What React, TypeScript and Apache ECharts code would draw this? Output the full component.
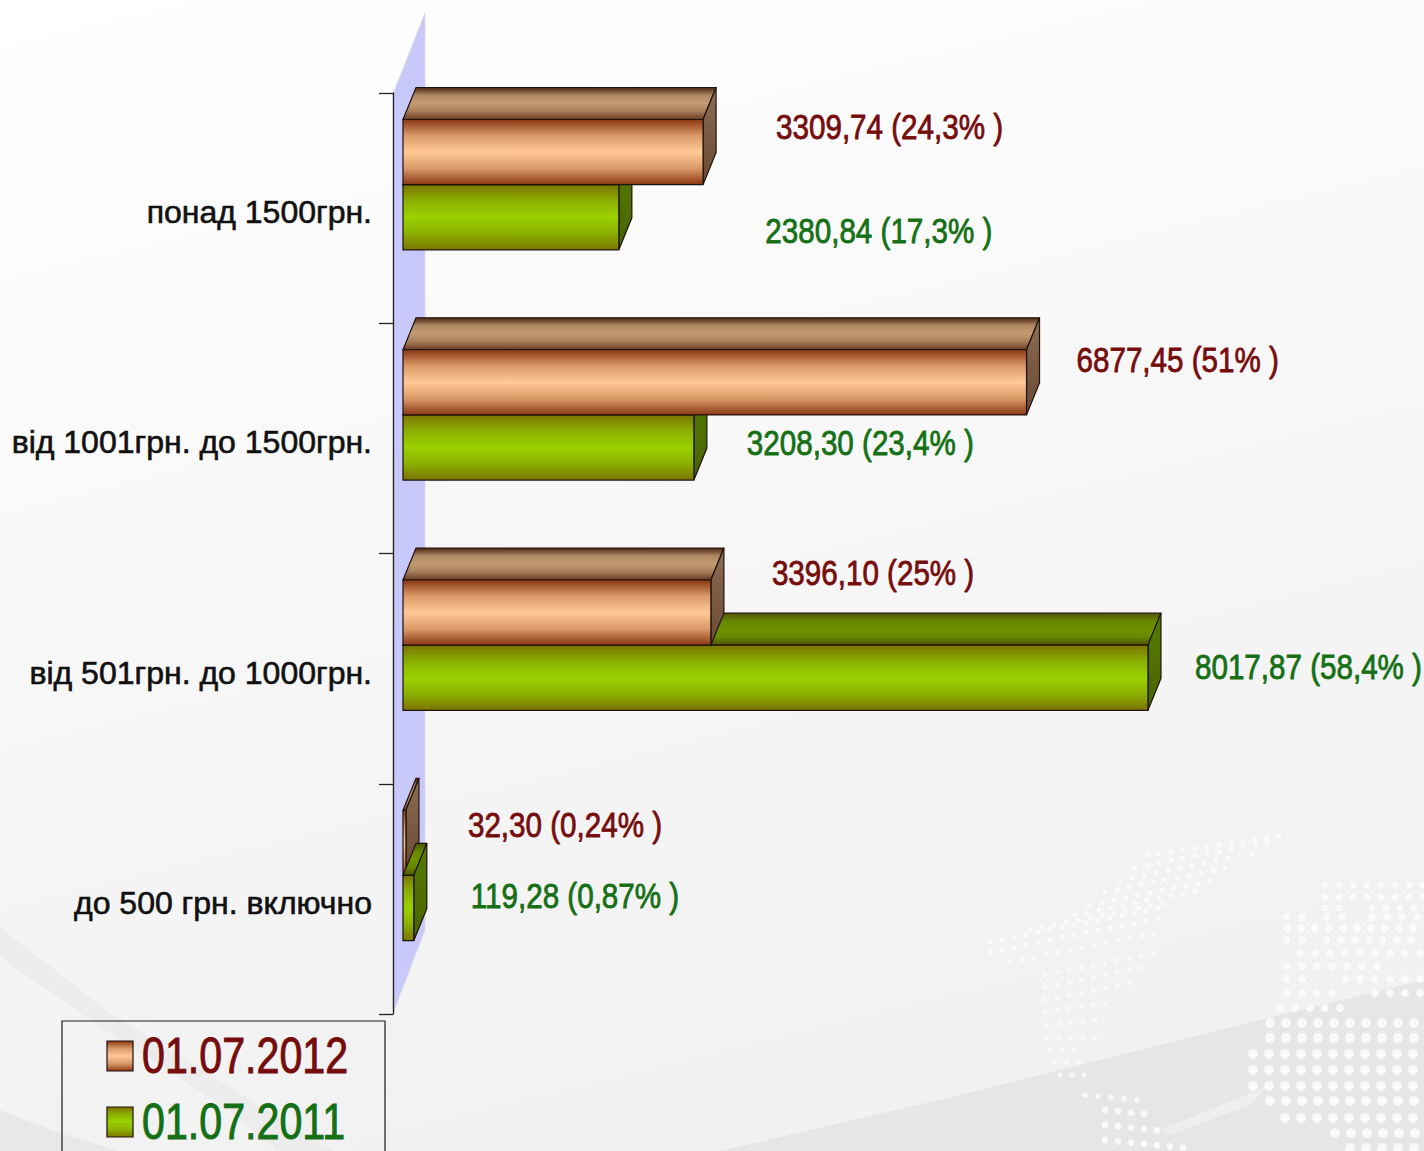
import React, { useEffect, useRef } from "react";
import * as echarts from "echarts";

// Categories bottom-to-top, as in the chart's own axis
const categories = ["до 500 грн. включно", "від 501грн. до 1000грн.", "від 1001грн. до 1500грн.", "понад 1500грн."];
const seriesNames = ["01.07.2012", "01.07.2011"];
const values2012 = [32.3, 3396.1, 6877.45, 3309.74];
// Bar lengths (the 501-1000 bar is drawn longer than its printed label)
const values2011 = [119.28, 8217, 3208.3, 2380.84];
const labels2012 = ["32,30 (0,24% )", "3396,10 (25% )", "6877,45 (51% )", "3309,74 (24,3% )"];
const labels2011 = ["119,28 (0,87% )", "8017,87 (58,4% )", "3208,30 (23,4% )", "2380,84 (17,3% )"];

// Manual placement of the data labels: offset from bar end (front face) and band centre
const offs2012: number[][] = [[62, -74], [61, -95], [50, -78], [73, -81]];
const offs2011: number[][] = [[57, -3], [47, -1], [53, 5], [146.5, 23]];

const FONT = '"Liberation Sans", Arial, sans-serif';
const COLOR_2012 = "#760d0d";
const COLOR_2011 = "#157015";
const grad = (c: string[]) =>
  new echarts.graphic.LinearGradient(
    0,
    0,
    0,
    1,
    c.map((color, i) => ({ offset: i / (c.length - 1), color })),
  );

const styles = {
  "2012": {
    front: ["#8c3714", "#d99a68", "#ffc895", "#d99a68", "#8c3714"],
    top: ["#4a2412", "#b08a64", "#c39b72", "#a57d5a", "#6d3a20"],
    side: ["#8d6e55", "#7a5a42", "#6b4a34"],
    text: COLOR_2012,
  },
  "2011": {
    front: ["#7a7400", "#8cb000", "#99d100", "#8cb000", "#7a7400"],
    top: ["#4f5500", "#668600", "#6e9200", "#668600", "#4f5500"],
    side: ["#557a00", "#4f7000", "#486300"],
    text: COLOR_2011,
  },
} as const;

const DX = 13;
const DY = -32;
const EDGE = "#1c120c";

function makeRender(kind: "2012" | "2011") {
  const st = styles[kind];
  const labels = kind === "2012" ? labels2012 : labels2011;
  const offs = kind === "2012" ? offs2012 : offs2011;
  return (_p: any, api: any) => {
    const v = api.value(0);
    const cat = api.value(1);
    const end = api.coord([v, cat]);
    const x0 = api.coord([0, cat])[0];
    const band = api.size([0, 1])[1];
    const yTop = end[1] + band * (kind === "2012" ? -0.385 : -0.102);
    const yBot = end[1] + band * (kind === "2012" ? -0.102 : 0.181);
    const x1 = end[0];
    const children: any[] = [
      {
        type: "polygon",
        shape: { points: [[x0, yTop], [x0 + DX, yTop + DY], [x1 + DX, yTop + DY], [x1, yTop]] },
        style: { fill: grad(st.top as any), stroke: EDGE, lineWidth: 1.2 },
      },
      {
        type: "polygon",
        shape: { points: [[x1, yTop], [x1 + DX, yTop + DY], [x1 + DX, yBot + DY], [x1, yBot]] },
        style: { fill: grad(st.side as any), stroke: EDGE, lineWidth: 1.2 },
      },
      {
        type: "rect",
        shape: { x: x0, y: yTop, width: x1 - x0, height: yBot - yTop },
        style: { fill: grad(st.front as any), stroke: EDGE, lineWidth: 1.2 },
      },
      {
        type: "text",
        x: x1 + offs[cat][0],
        y: end[1] + offs[cat][1],
        scaleY: 1.17,
        style: {
          text: labels[cat],
          fill: st.text,
          stroke: st.text,
          lineWidth: 0.7,
          fontFamily: FONT,
          fontSize: 29.6,
          align: "left",
          verticalAlign: "middle",
        },
      },
    ];
    return { type: "group", children };
  };
}

// Background dot rows: [y, xStart, xEnd, spacing, radius, slope]
const dotRows: number[][] = [
  [1023, 1270, 1424, 16, 5, 0], [1038, 1270, 1424, 16, 5, 0], [1054, 1253, 1424, 16, 5, 0],
  [1070, 1253, 1424, 16, 5, 0], [1086, 1253, 1424, 16, 5, 0], [1101, 1270, 1424, 16, 5, 0],
  [1118, 1285, 1424, 16, 5, 0], [1133, 1335, 1424, 16, 5, 0], [1148, 1350, 1424, 16, 5, 0],
  [885, 1325, 1424, 14, 3.5, 0], [897, 1325, 1424, 14, 3.5, 0], [908, 1325, 1345, 14, 3.5, 0],
  [908, 1372, 1424, 14, 3.5, 0], [917, 1287, 1302, 15, 4, 0], [917, 1327, 1343, 15, 4, 0],
  [917, 1372, 1424, 15, 4, 0], [928, 1287, 1424, 14, 4, 0], [940, 1287, 1302, 15, 4, 0],
  [940, 1327, 1424, 14, 4, 0], [953, 1300, 1424, 15, 4, 0], [966, 1287, 1385, 15, 4, 0],
  [979, 1287, 1302, 15, 4, 0], [979, 1345, 1424, 15, 4, 0], [993, 1287, 1335, 15, 4, 0],
  [993, 1375, 1424, 15, 4, 0], [1008, 1280, 1350, 15, 4, 0],
  [855, 1147, 1280, 12, 2.6, -0.14], [868, 1135, 1270, 12, 2.6, -0.2], [880, 1120, 1255, 12, 2.6, -0.2],
  [892, 1105, 1230, 12, 2.6, -0.2], [905, 1090, 1210, 12, 2.6, -0.2], [915, 1075, 1200, 12, 2.6, -0.2],
  [930, 1030, 1165, 12, 2.6, -0.2], [942, 990, 1160, 12, 2.6, -0.2], [952, 990, 1160, 12, 2.6, -0.2],
  [962, 1010, 1160, 12, 2.6, -0.2], [975, 1045, 1160, 12, 2.6, -0.2], [987, 1045, 1150, 12, 2.6, -0.2],
  [1000, 1045, 1130, 12, 2.6, -0.2], [1012, 1045, 1110, 12, 2.6, -0.15], [1025, 1047, 1100, 12, 2.6, -0.1],
  [1038, 1047, 1095, 12, 2.6, 0], [1050, 1050, 1075, 12, 2.6, 0], [1062, 1055, 1090, 12, 2.6, 0],
  [1075, 1060, 1085, 12, 2.6, 0], [1095, 1085, 1140, 13, 3, 0.1], [1110, 1105, 1150, 13, 3.4, 0.1],
  [1125, 1105, 1160, 13, 3.4, 0.1], [1140, 1105, 1190, 13, 3.4, 0.1],
];

function backgroundGraphics() {
  const dots: any[] = [];
  for (const [y, a, b, step, r, slope] of dotRows) {
    for (let x = a; x <= b; x += step) {
      dots.push({
        type: "circle",
        shape: { cx: x, cy: y + (x - a) * slope, r },
        style: { fill: "#fbfbfb", opacity: r > 3 ? 0.9 : 0.8 },
        silent: true,
      });
    }
  }
  return [
    {
      type: "rect",
      shape: { x: 0, y: 0, width: 1424, height: 1151 },
      style: {
        fill: new echarts.graphic.LinearGradient(0, 0, 0.3, 1, [
          { offset: 0, color: "#ffffff" },
          { offset: 0.35, color: "#fafafa" },
          { offset: 1, color: "#f1f1f1" },
        ]),
      },
      silent: true,
    },
    {
      type: "polygon",
      shape: { points: [[720, 1151], [960, 1095], [1260, 1020], [1424, 980], [1424, 1151]] },
      style: { fill: "#e6e6e6" },
      silent: true,
    },
    {
      type: "polygon",
      shape: { points: [[1160, 1130], [1270, 1085], [1250, 1105], [1170, 1135]] },
      style: { fill: "#eeeeee" },
      silent: true,
    },
    {
      type: "polygon",
      shape: { points: [[0, 927], [110, 1013], [333, 1151], [277, 1151], [233, 1113], [100, 1027], [0, 957]] },
      style: { fill: "#ececec" },
      silent: true,
    },
    {
      type: "polygon",
      shape: { points: [[0, 1110], [60, 1133], [120, 1151], [0, 1151]] },
      style: { fill: "#e8e8e8" },
      silent: true,
    },
    ...dots,
    {
      type: "polygon",
      shape: { points: [[393, 94], [425, 13], [425, 930], [393, 1013]] },
      style: { fill: "#c8c8fa", stroke: "#dcdce6", lineWidth: 1 },
      silent: true,
    },
  ];
}

function legendGraphics() {
  const items: any[] = [
    {
      type: "rect",
      shape: { x: 62, y: 1021, width: 323, height: 150 },
      style: { fill: "transparent", stroke: "#1a1a1a", lineWidth: 1.2 },
      silent: true,
    },
  ];
  const rows = [
    { name: seriesNames[0], color: COLOR_2012, icon: styles["2012"].front, iconY: 1041, textY: 1056 },
    { name: seriesNames[1], color: COLOR_2011, icon: styles["2011"].front, iconY: 1107, textY: 1122 },
  ];
  for (const r of rows) {
    items.push({
      type: "rect",
      shape: { x: 107, y: r.iconY, width: 26, height: 30 },
      style: { fill: grad(r.icon as any), stroke: EDGE, lineWidth: 1.2 },
      silent: true,
    });
    items.push({
      type: "text",
      x: 142,
      y: r.textY,
      scaleY: 1.22,
      style: {
        text: r.name,
        fill: r.color,
        stroke: r.color,
        lineWidth: 0.8,
        fontFamily: FONT,
        fontSize: 41.2,
        align: "left",
        verticalAlign: "middle",
      },
      silent: true,
    });
  }
  return items;
}

export default function App() {
  const ref = useRef<HTMLDivElement>(null);
  useEffect(() => {
    document.body.style.margin = "0";
    const chart = echarts.init(ref.current!, undefined, { renderer: "svg" });
    const toData = (vals: number[], idx: number[]) => idx.map((i) => [vals[i], i]);
    chart.setOption({
      animation: false,
      backgroundColor: "#ffffff",
      graphic: {
        elements: [
          { type: "group", z: -10, children: backgroundGraphics() },
          { type: "group", z: 10, children: legendGraphics() },
        ],
      },
      grid: { left: 403, top: 93, width: 1000, height: 921 },
      xAxis: { type: "value", min: 0, max: 11030, show: false },
      yAxis: {
        type: "category",
        data: categories,
        offset: 10,
        axisLine: { onZero: false, lineStyle: { color: "#222222", width: 1.3 } },
        axisTick: { show: true, length: 14, lineStyle: { color: "#222222", width: 1.3 } },
        axisLabel: {
          margin: 21,
          color: "#111111",
          fontFamily: FONT,
          fontSize: 32,
          textBorderColor: "#111111",
          textBorderWidth: 0.6,
          verticalAlign: "top",
          lineHeight: 8,
        },
      },
      series: [
        { type: "custom", name: seriesNames[0], z: 2, clip: false, encode: { x: 0, y: 1 }, renderItem: makeRender("2012"), data: toData(values2012, [0]) },
        { type: "custom", name: seriesNames[1], z: 3, clip: false, encode: { x: 0, y: 1 }, renderItem: makeRender("2011"), data: toData(values2011, [0, 1, 2, 3]) },
        { type: "custom", name: seriesNames[0], z: 4, clip: false, encode: { x: 0, y: 1 }, renderItem: makeRender("2012"), data: toData(values2012, [1, 2, 3]) },
      ],
    });
    return () => chart.dispose();
  }, []);
  return <div ref={ref} style={{ position: "fixed", left: 0, top: 0, width: 1424, height: 1151 }} />;
}
